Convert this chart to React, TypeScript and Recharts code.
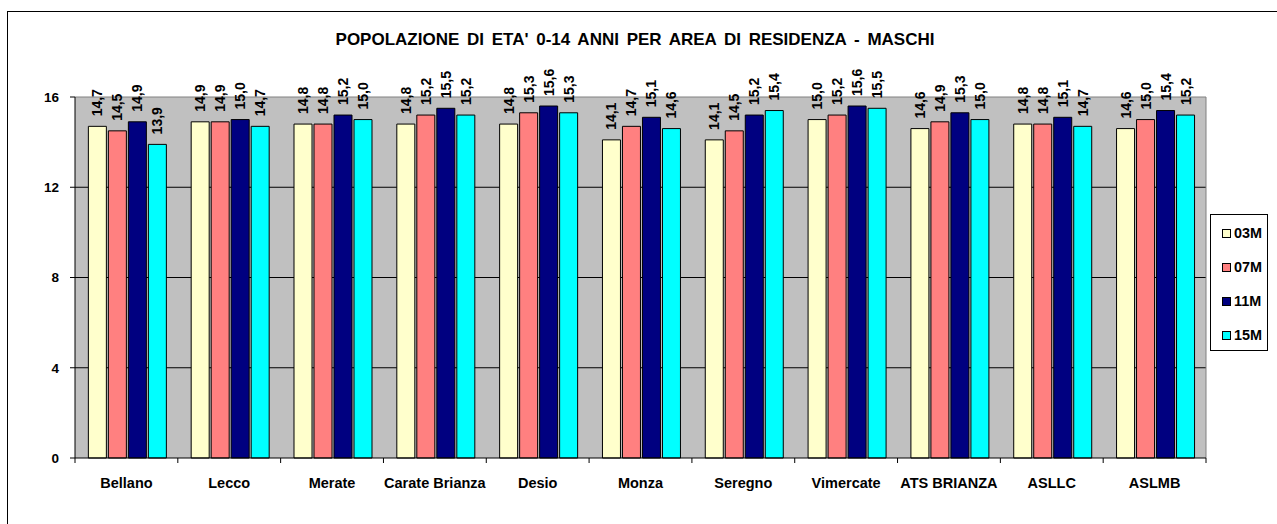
import React from 'react';
import { BarChart, Bar, XAxis, YAxis, CartesianGrid, LabelList } from 'recharts';

const categories = ['Bellano', 'Lecco', 'Merate', 'Carate Brianza', 'Desio', 'Monza', 'Seregno', 'Vimercate', 'ATS BRIANZA', 'ASLLC', 'ASLMB'];
const s03M = [14.7, 14.9, 14.8, 14.8, 14.8, 14.1, 14.1, 15.0, 14.6, 14.8, 14.6];
const s07M = [14.5, 14.9, 14.8, 15.2, 15.3, 14.7, 14.5, 15.2, 14.9, 14.8, 15.0];
const s11M = [14.9, 15.0, 15.2, 15.5, 15.6, 15.1, 15.2, 15.6, 15.3, 15.1, 15.4];
const s15M = [13.9, 14.7, 15.0, 15.2, 15.3, 14.6, 15.4, 15.5, 15.0, 14.7, 15.2];
const seriesNames = ['03M', '07M', '11M', '15M'];
const seriesValues = [s03M, s07M, s11M, s15M];
const yTicks = [0, 4, 8, 12, 16];
const titleText = "POPOLAZIONE DI ETA' 0-14 ANNI PER AREA DI RESIDENZA - MASCHI";

const colors = ['#FFFFCC', '#FF8080', '#000080', '#00FFFF'];
const FONT = '"Liberation Sans", Arial, sans-serif';

const data = categories.map((c, i) => {
  const row: any = { name: c };
  seriesNames.forEach((s, j) => {
    row[s] = seriesValues[j][i];
  });
  return row;
});

const W = 1277;
const H = 524;
const margin = { top: 97, right: 71, left: 15, bottom: 26 };
const Y_AXIS_W = 60;
const X_AXIS_H = 40;
const plotW = W - margin.left - margin.right - Y_AXIS_W;
const bandW = plotW / categories.length;

const fmt = (v: number) => v.toFixed(1).replace('.', ',');

const BarLabel = (props: any) => {
  const { x, y, width, value } = props;
  const cx = x + width / 2;
  const ty = y - 10;
  return (
    <text
      x={cx}
      y={ty}
      transform={`rotate(-90, ${cx}, ${ty})`}
      textAnchor="start"
      dominantBaseline="central"
      fontFamily={FONT}
      fontWeight="bold"
      fontSize={14}
      fill="#000"
    >
      {fmt(value)}
    </text>
  );
};

const XTick = (props: any) => {
  const { x, y, payload, index } = props;
  const left = x - bandW / 2;
  const right = x + bandW / 2;
  return (
    <g>
      <line x1={left} x2={left} y1={y} y2={y + 5} stroke="#000" strokeWidth={1} />
      {index === categories.length - 1 && (
        <line x1={right} x2={right} y1={y} y2={y + 5} stroke="#000" strokeWidth={1} />
      )}
      <text
        x={x}
        y={y + 30}
        textAnchor="middle"
        fontFamily={FONT}
        fontWeight="bold"
        fontSize={14.5}
        fill="#000"
      >
        {payload.value}
      </text>
    </g>
  );
};

export default function App() {
  return (
    <div style={{ position: 'absolute', left: 0, top: 0, width: W, height: H, overflow: 'hidden', background: '#fff' }}>
      <div
        style={{
          position: 'absolute',
          left: 7,
          top: 11,
          width: W + 50,
          height: H + 50,
          borderLeft: '1px solid #000',
          borderTop: '1px solid #000',
          boxSizing: 'border-box',
        }}
      />
      <div
        style={{
          position: 'absolute',
          left: 0,
          top: 31,
          width: 1270,
          textAlign: 'center',
          fontFamily: FONT,
          fontWeight: 'bold',
          fontSize: 17,
          lineHeight: '17px',
          wordSpacing: 3,
          whiteSpace: 'nowrap',
          color: '#000',
        }}
      >
        {titleText}
      </div>
      <div style={{ position: 'absolute', left: 0, top: 0 }}>
        <BarChart
          width={W}
          height={H}
          data={data}
          margin={margin}
          barCategoryGap="13%"
          barGap={2}
        >
          <CartesianGrid
            vertical={false}
            horizontalValues={[4, 8, 12]}
            stroke="#000"
            fill="#C0C0C0"
            fillOpacity={1}
          />
          <CartesianGrid
            horizontalValues={[16]}
            verticalCoordinatesGenerator={({ offset }: any) => [offset.left + offset.width]}
            stroke="#808080"
          />
          <XAxis
            dataKey="name"
            height={X_AXIS_H}
            axisLine={{ stroke: '#000' }}
            tickLine={false}
            tickSize={0}
            tickMargin={0}
            interval={0}
            tick={<XTick />}
          />
          <YAxis
            width={Y_AXIS_W}
            domain={[0, 16]}
            ticks={yTicks}
            interval={0}
            axisLine={{ stroke: '#000' }}
            tickLine={{ stroke: '#000' }}
            tickSize={5}
            tickMargin={11}
            tick={{ fontFamily: FONT, fontWeight: 'bold', fontSize: 13.5, fill: '#000' }}
          />
          {seriesNames.map((s, j) => (
            <Bar key={s} dataKey={s} fill={colors[j]} stroke="#000" strokeWidth={1} isAnimationActive={false}>
              <LabelList dataKey={s} content={<BarLabel />} />
            </Bar>
          ))}
        </BarChart>
      </div>
      <div
        style={{
          position: 'absolute',
          left: 1210,
          top: 214,
          width: 58,
          height: 137,
          border: '1px solid #000',
          boxSizing: 'border-box',
          background: '#fff',
        }}
      >
        {seriesNames.map((s, j) => (
          <div
            key={s}
            style={{
              position: 'absolute',
              left: 11,
              top: 8 + j * 34,
              height: 20,
              display: 'flex',
              alignItems: 'center',
              fontFamily: FONT,
              fontWeight: 'bold',
              fontSize: 14.4,
              color: '#000',
            }}
          >
            <span
              style={{
                display: 'inline-block',
                width: 7,
                height: 7,
                background: colors[j],
                border: '1px solid #000',
                marginRight: 3,
              }}
            />
            {s}
          </div>
        ))}
      </div>
    </div>
  );
}
